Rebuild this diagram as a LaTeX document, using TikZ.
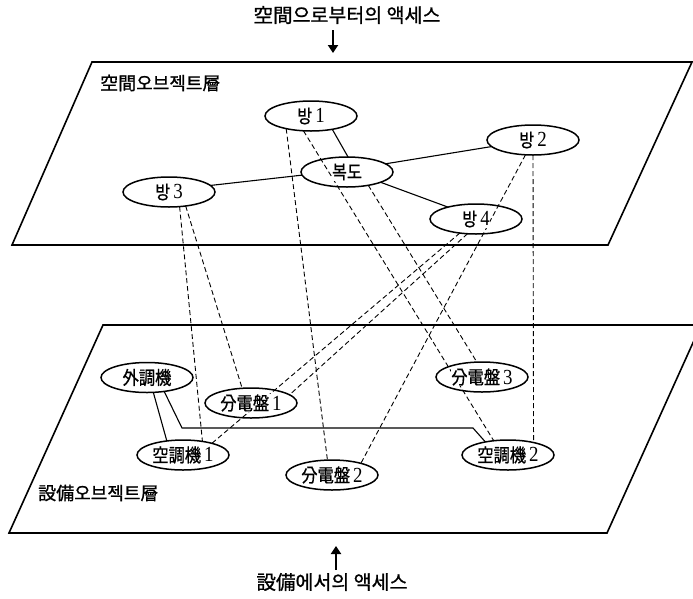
\documentclass[tikz,border=0pt]{standalone}
\usepackage{fontspec}
\setmainfont{Liberation Serif}
\newfontfamily\cjk{Noto Sans CJK KR}[FakeBold=1]
\usetikzlibrary{shapes.geometric,arrows.meta,backgrounds}
\newcommand\wb[1]{{\setlength\fboxsep{0.5pt}\colorbox{white}{\scalebox{0.88}[1]{#1}}}}
\newcommand\kt[2]{\wb{{\cjk #1}\hspace{3.5pt}{\fontsize{21.5}{21.5}\selectfont #2}}}
\tikzset{
  obj/.style={ellipse, draw, line width=1.5pt, minimum width=92pt, minimum height=30pt,
              inner sep=0pt, outer sep=0pt, font=\fontsize{18.5}{18.5}\selectfont},
  link/.style={line width=1.1pt},
  dep/.style={line width=0.9pt, dash pattern=on 5pt off 3pt},
  plane/.style={line width=1.6pt, line join=miter},
  arr/.style={line width=2.4pt, -{Triangle[length=8pt,width=10pt]}},
  lbl/.style={font=\fontsize{18}{18}\selectfont\cjk, inner sep=0pt}
}
\begin{document}
\begin{tikzpicture}[x=1pt,y=-1pt]
\useasboundingbox (0,0) rectangle (693,598);
% planes
\begin{pgfonlayer}{background}
\draw[plane] (92,62) -- (692,62) -- (608,245) -- (12,245) -- cycle;
\draw[plane] (103,325) -- (701,325) -- (607,533) -- (9,533) -- cycle;
\end{pgfonlayer}
% texts
\node[lbl, anchor=west] (tl) at (100,83) {空間오브젝트層};
\node[lbl, anchor=west] (bl) at (38,493) {設備오브젝트層};
\node[lbl, font=\fontsize{19.5}{19.5}\selectfont\cjk] (ttl) at (347,15) {空間으로부터의 액세스};
\node[lbl, font=\fontsize{19.5}{19.5}\selectfont\cjk] (btl) at (332,582) {設備에서의 액세스};
\coordinate (ta) at (333,53);
\coordinate (ba) at (336,546);
\draw[arr, shorten <=6pt] (ttl.south -| ta) -- (ta);
\draw[arr, shorten <=3pt] (btl.north -| ba) -- (ba);
% space objects
\node[obj] (b1) at (311,116) {\kt{방}{1}};
\node[obj] (bokdo) at (347,172) {\wb{\cjk 복도}};
\node[obj] (b2) at (533,140) {\kt{방}{2}};
\node[obj] (b3) at (169,192) {\kt{방}{3}};
\node[obj] (b4) at (476,219) {\kt{방}{4}};
% equipment objects
\node[obj] (oe) at (147,377.5) {\wb{\cjk 外調機}};
\node[obj] (p1) at (251,403) {\kt{分電盤}{1}};
\node[obj] (a1) at (183,455) {\kt{空調機}{1}};
\node[obj] (p2) at (332,475) {\kt{分電盤}{2}};
\node[obj] (p3) at (482,377) {\kt{分電盤}{3}};
\node[obj] (a2) at (508,455) {\kt{空調機}{2}};
\coordinate (k1) at (182,428);
\coordinate (k2) at (473,428);
\begin{pgfonlayer}{background}
% solid links
\draw[link] (b1.-32) -- (bokdo.86);
\draw[link] (b3.9) -- (bokdo.-176);
\draw[link] (bokdo.12) -- (b2.-171);
\draw[link] (bokdo.-17) -- (b4.157);
\draw[link] (oe.-67) -- (a1.139);
\draw[link] (oe.-39) -- (k1) -- (k2) -- (a2.150);
% dashed links
\draw[dep] (b3.-54) -- (a1.35);
\draw[dep] (b3.-40) -- (p1.121);
\draw[dep] (b1.-153) -- (p2.107);
\draw[dep] (b1.-117) -- (a2.135);
\draw[dep] (bokdo.-32) -- (p3.109);
\draw[dep] (b4.-139) -- (a1.22);
\draw[dep] (b4.-120) -- (p1.12);
\draw[dep] (b2.-117) -- (p2.22);
\draw[dep] (b2.-90) -- (a2.26);
\end{pgfonlayer}
\end{tikzpicture}
\end{document}
